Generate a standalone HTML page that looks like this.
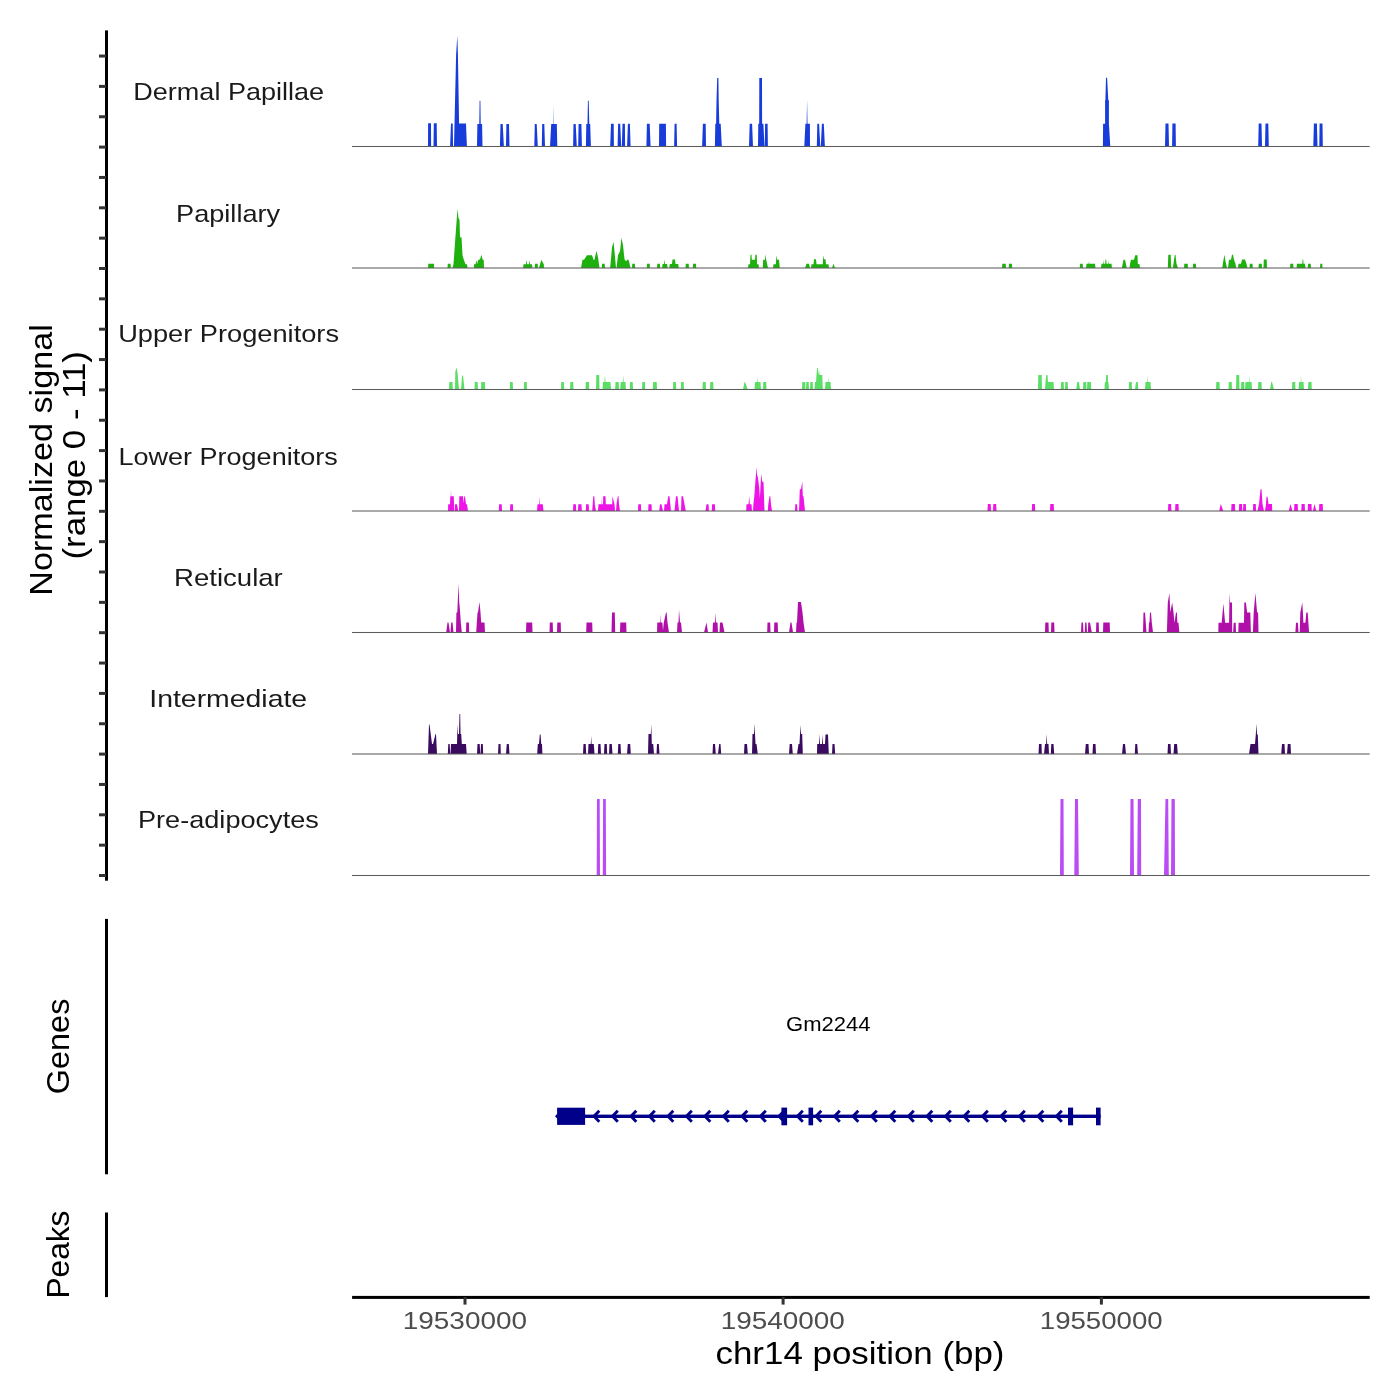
<!DOCTYPE html>
<html><head><meta charset="utf-8"><style>
html,body{margin:0;padding:0;background:#fff;width:1400px;height:1400px;overflow:hidden}
svg{display:block;will-change:transform}
text{font-family:"Liberation Sans",sans-serif}
</style></head><body>
<svg width="1400" height="1400" viewBox="0 0 1400 1400">
<rect width="1400" height="1400" fill="#fff"/>
<path fill="#173cda" d="M428.0 146.5L428.0 146.5L428.1 123.3L431.0 123.3L431.1 146.5L431.1 146.5ZM433.5 146.5L433.5 146.5L433.8 123.3L436.7 123.3L437.0 146.5L437.0 146.5ZM450.1 146.5L450.1 146.5L451.0 123.6L452.7 123.6L453.1 146.5L453.1 146.5ZM454.0 146.5L454.0 146.5L456.1 55.0L457.3 35.5L457.9 53.5L459.1 123.6L459.5 123.6L466.0 123.6L466.9 146.5L466.9 146.5ZM477.0 146.5L477.0 146.5L477.4 123.9L479.3 123.9L479.6 100.7L480.4 100.7L480.7 123.9L482.1 123.9L482.5 146.5L482.5 146.5ZM499.9 146.5L499.9 146.5L500.5 123.9L502.7 123.9L503.9 146.5L503.9 146.5ZM506.0 146.5L506.0 146.5L506.4 123.9L509.0 123.9L509.5 146.5L509.5 146.5ZM534.3 146.5L534.3 146.5L534.8 123.9L536.7 123.9L537.8 146.5L537.8 146.5ZM541.8 146.5L541.8 146.5L542.2 123.9L544.3 123.9L545.0 146.5L545.0 146.5ZM550.0 146.5L550.0 146.5L551.2 123.9L553.4 123.9L553.6 104.3L553.8 123.9L556.8 123.9L557.3 146.5L557.3 146.5ZM573.1 146.5L573.1 146.5L573.5 123.9L575.7 123.9L576.8 146.5L576.8 146.5ZM578.2 146.5L578.2 146.5L578.6 123.9L581.4 123.9L581.9 146.5L581.9 146.5ZM585.9 146.5L585.9 146.5L586.3 123.9L587.5 123.9L587.9 100.7L588.7 100.7L589.3 123.9L590.2 123.9L590.9 146.5L590.9 146.5ZM610.2 146.5L610.2 146.5L611.0 123.8L613.7 123.8L613.9 146.5L613.9 146.5ZM617.6 146.5L617.6 146.5L618.1 123.8L620.2 123.8L621.2 146.5L621.2 146.5ZM621.8 146.5L621.8 146.5L622.5 123.8L624.9 123.8L625.1 146.5L625.1 146.5ZM627.1 146.5L627.1 146.5L627.9 123.8L629.9 123.8L630.6 146.5L630.6 146.5ZM646.4 146.5L646.4 146.5L646.9 123.8L649.7 123.8L650.6 146.5L650.6 146.5ZM659.0 146.5L659.0 146.5L659.2 123.8L665.9 123.8L666.1 146.5L666.1 146.5ZM674.1 146.5L674.1 146.5L674.6 123.8L676.6 123.8L677.1 146.5L677.1 146.5ZM702.1 146.5L702.1 146.5L702.9 123.8L705.7 123.8L706.0 146.5L706.0 146.5ZM714.9 146.5L714.9 146.5L715.3 123.8L716.1 123.8L716.5 100.8L717.2 78.1L718.4 78.1L718.7 100.8L719.3 123.8L720.7 123.8L721.8 146.5L721.8 146.5ZM749.0 146.5L749.0 146.5L749.7 123.8L752.1 123.8L753.0 146.5L753.0 146.5ZM758.0 146.5L758.0 146.5L758.3 123.8L759.2 123.8L759.3 78.1L762.0 78.1L762.1 123.8L763.4 123.8L764.5 146.5L764.5 146.5ZM764.8 146.5L764.8 146.5L765.1 123.8L767.6 123.8L767.9 146.5L767.9 146.5ZM804.3 146.5L804.3 146.5L805.4 123.8L806.6 123.8L807.1 99.9L807.5 123.8L809.9 123.8L810.0 146.5L810.0 146.5ZM816.8 146.5L816.8 146.5L817.3 123.8L819.1 123.8L820.3 146.5L820.3 146.5ZM820.8 146.5L820.8 146.5L821.9 123.8L823.8 123.8L824.9 146.5L824.9 146.5ZM1102.9 146.5L1102.9 146.5L1103.1 123.7L1105.1 123.7L1105.1 100.3L1105.4 100.3L1106.0 77.7L1107.1 77.7L1108.3 100.3L1108.9 100.3L1108.9 123.7L1110.3 146.5L1110.3 146.5ZM1165.0 146.5L1165.0 146.5L1165.5 123.6L1168.5 123.6L1169.0 146.5L1169.0 146.5ZM1172.1 146.5L1172.1 146.5L1172.4 123.6L1175.6 123.6L1175.9 146.5L1175.9 146.5ZM1258.2 146.5L1258.2 146.5L1258.7 123.6L1261.5 123.6L1262.0 146.5L1262.0 146.5ZM1265.0 146.5L1265.0 146.5L1265.5 123.6L1268.3 123.6L1268.8 146.5L1268.8 146.5ZM1313.3 146.5L1313.3 146.5L1313.9 123.6L1316.9 123.6L1317.5 146.5L1317.5 146.5ZM1319.3 146.5L1319.3 146.5L1319.6 123.6L1322.5 123.6L1322.8 146.5L1322.8 146.5Z"/>
<rect x="352.0" y="145.975" width="1017.7" height="1.05" fill="#5c5c5c"/>
<path fill="#1eb00e" d="M428.0 268.0L428.0 268.0L428.3 263.7L433.9 263.7L434.2 268.0L434.2 268.0ZM447.5 268.0L447.5 268.0L447.8 263.7L450.5 263.7L450.8 268.0L450.8 268.0ZM452.5 268.0L452.5 268.0L453.5 264.0L455.0 243.0L457.5 208.7L458.5 218.2L459.5 219.7L460.0 237.2L461.5 237.2L462.5 255.2L464.0 260.2L465.5 264.2L467.0 264.2L467.5 268.0L467.5 268.0ZM474.0 268.0L474.0 268.0L474.0 264.2L475.5 264.2L476.5 260.2L477.2 264.2L478.0 260.2L480.0 259.2L481.5 254.7L482.5 259.2L483.8 260.2L484.0 268.0L484.0 268.0ZM523.0 268.0L523.0 268.0L523.5 264.2L526.0 264.2L526.5 259.7L527.2 264.2L529.0 264.2L529.5 260.2L530.2 264.2L532.0 264.2L532.5 268.0L532.5 268.0ZM534.8 268.0L534.8 268.0L535.1 263.7L537.7 263.7L538.0 268.0L538.0 268.0ZM539.0 268.0L539.0 268.0L540.0 264.2L541.5 259.7L542.5 262.0L543.8 264.2L544.0 268.0L544.0 268.0ZM581.0 268.0L581.0 268.0L582.5 259.7L584.0 259.7L587.0 255.2L592.0 255.2L593.5 259.7L594.5 259.7L596.5 250.7L598.0 257.2L599.5 268.0L599.5 268.0ZM601.8 268.0L601.8 268.0L602.1 263.7L604.7 263.7L605.0 268.0L605.0 268.0ZM610.0 268.0L610.0 268.0L610.5 264.2L612.0 247.2L613.5 241.7L614.5 251.2L616.0 268.0L616.0 268.0ZM616.5 268.0L616.5 268.0L618.0 255.2L620.0 251.2L621.5 237.7L623.0 245.2L624.5 259.2L626.0 261.2L628.0 259.2L629.0 261.2L630.5 268.0L630.5 268.0ZM632.0 268.0L632.0 268.0L632.3 263.7L634.9 263.7L635.2 268.0L635.2 268.0ZM646.8 268.0L646.8 268.0L647.1 263.7L649.7 263.7L650.0 268.0L650.0 268.0ZM657.0 268.0L657.0 268.0L657.3 263.7L659.9 263.7L660.2 268.0L660.2 268.0ZM662.2 268.0L662.2 268.0L662.5 264.0L664.0 264.0L664.5 259.2L665.0 264.0L667.2 264.0L667.5 268.0L667.5 268.0ZM669.2 268.0L669.2 268.0L669.8 264.0L672.0 264.0L672.5 259.4L675.0 259.4L675.5 264.0L678.2 264.0L678.8 268.0L678.8 268.0ZM685.5 268.0L685.5 268.0L685.8 263.7L688.7 263.7L689.0 268.0L689.0 268.0ZM692.8 268.0L692.8 268.0L693.1 263.7L695.9 263.7L696.2 268.0L696.2 268.0ZM748.0 268.0L748.0 268.0L748.5 264.2L750.0 264.2L750.5 254.7L751.5 254.7L751.8 259.7L755.0 259.7L755.5 254.7L756.8 254.7L757.0 264.2L758.5 264.2L759.0 268.0L759.0 268.0ZM762.8 268.0L762.8 268.0L763.2 259.7L765.0 259.7L765.5 254.2L766.2 259.7L767.2 264.2L768.0 268.0L768.0 268.0ZM773.0 268.0L773.0 268.0L773.5 264.2L775.8 264.2L776.5 255.2L777.2 259.7L779.0 259.7L779.8 268.0L779.8 268.0ZM805.0 268.0L805.0 268.0L806.5 263.7L809.0 263.7L810.0 268.0L810.0 268.0ZM811.0 268.0L811.0 268.0L811.5 264.2L813.5 264.2L814.0 259.2L816.0 259.2L816.5 264.2L822.8 264.2L823.3 255.2L824.0 259.2L825.5 259.2L826.0 264.2L828.5 264.2L829.0 268.0L829.0 268.0ZM832.0 268.0L832.0 268.0L833.5 263.7L835.0 268.0L835.0 268.0ZM1002.0 268.0L1002.0 268.0L1002.3 263.7L1005.7 263.7L1006.0 268.0L1006.0 268.0ZM1008.7 268.0L1008.7 268.0L1009.0 263.7L1011.9 263.7L1012.2 268.0L1012.2 268.0ZM1079.8 268.0L1079.8 268.0L1080.1 263.7L1082.7 263.7L1083.0 268.0L1083.0 268.0ZM1086.0 268.0L1086.0 268.0L1086.5 263.7L1088.7 263.7L1089.0 260.7L1089.3 263.7L1095.0 263.7L1095.5 268.0L1095.5 268.0ZM1101.0 268.0L1101.0 268.0L1101.5 263.7L1103.2 263.7L1103.5 259.7L1103.8 263.7L1105.2 263.7L1105.5 259.5L1106.2 259.5L1106.5 263.7L1108.2 263.7L1108.5 259.7L1108.8 263.7L1111.5 263.7L1112.0 268.0L1112.0 268.0ZM1121.8 268.0L1121.8 268.0L1123.5 259.7L1125.0 259.7L1126.8 268.0L1126.8 268.0ZM1129.5 268.0L1129.5 268.0L1130.0 263.7L1131.0 259.7L1134.0 259.7L1135.2 255.2L1137.5 255.2L1137.8 263.7L1139.5 264.2L1140.0 268.0L1140.0 268.0ZM1167.8 268.0L1167.8 268.0L1168.3 254.7L1170.7 254.7L1171.2 268.0L1171.2 268.0ZM1172.8 268.0L1172.8 268.0L1173.5 263.7L1174.8 254.7L1175.5 254.7L1176.5 263.7L1178.0 268.0L1178.0 268.0ZM1184.0 268.0L1184.0 268.0L1184.3 263.7L1187.7 263.7L1188.0 268.0L1188.0 268.0ZM1192.8 268.0L1192.8 268.0L1193.1 263.7L1195.9 263.7L1196.2 268.0L1196.2 268.0ZM1222.2 268.0L1222.2 268.0L1223.5 259.7L1224.5 254.7L1225.2 259.7L1227.0 268.0L1227.0 268.0ZM1228.0 268.0L1228.0 268.0L1229.0 259.7L1231.0 259.7L1232.0 254.7L1233.0 254.7L1234.0 259.7L1235.5 263.7L1236.2 268.0L1236.2 268.0ZM1238.0 268.0L1238.0 268.0L1238.5 263.7L1241.0 263.7L1241.5 261.5L1242.0 259.5L1245.0 259.5L1246.5 263.7L1247.5 268.0L1247.5 268.0ZM1249.5 268.0L1249.5 268.0L1249.8 263.7L1252.5 263.7L1252.8 268.0L1252.8 268.0ZM1258.5 268.0L1258.5 268.0L1258.8 263.7L1261.7 263.7L1262.0 268.0L1262.0 268.0ZM1263.5 268.0L1263.5 268.0L1263.8 259.5L1266.7 259.5L1267.0 268.0L1267.0 268.0ZM1290.0 268.0L1290.0 268.0L1290.3 263.7L1293.2 263.7L1293.5 268.0L1293.5 268.0ZM1296.5 268.0L1296.5 268.0L1297.0 263.7L1302.3 263.7L1302.6 259.5L1303.2 259.5L1303.5 263.7L1305.0 263.7L1305.5 268.0L1305.5 268.0ZM1307.8 268.0L1307.8 268.0L1308.1 263.7L1310.7 263.7L1311.0 268.0L1311.0 268.0ZM1320.0 268.0L1320.0 268.0L1320.3 263.7L1322.2 263.7L1322.5 268.0L1322.5 268.0Z"/>
<rect x="352.0" y="267.475" width="1017.7" height="1.05" fill="#5c5c5c"/>
<path fill="#5ade66" d="M449.0 389.5L449.0 389.5L449.3 382.0L452.5 382.0L452.8 389.5L452.8 389.5ZM455.0 389.5L455.0 389.5L455.3 371.5L456.5 367.5L457.5 372.5L459.0 389.5L459.0 389.5ZM461.0 389.5L461.0 389.5L462.0 376.5L463.0 375.0L464.5 389.5L464.5 389.5ZM474.5 389.5L474.5 389.5L474.8 382.0L477.7 382.0L478.0 389.5L478.0 389.5ZM481.0 389.5L481.0 389.5L481.3 382.0L484.9 382.0L485.2 389.5L485.2 389.5ZM509.8 389.5L509.8 389.5L510.1 382.0L512.7 382.0L513.0 389.5L513.0 389.5ZM523.8 389.5L523.8 389.5L524.1 382.0L526.7 382.0L527.0 389.5L527.0 389.5ZM561.0 389.5L561.0 389.5L561.3 382.0L563.9 382.0L564.2 389.5L564.2 389.5ZM570.0 389.5L570.0 389.5L570.3 382.0L573.2 382.0L573.5 389.5L573.5 389.5ZM585.5 389.5L585.5 389.5L585.8 382.0L588.9 382.0L589.2 389.5L589.2 389.5ZM596.0 389.5L596.0 389.5L596.3 375.0L599.2 375.0L599.5 389.5L599.5 389.5ZM602.5 389.5L602.5 389.5L603.0 382.0L604.5 382.0L605.0 375.0L605.5 382.0L610.5 382.0L611.0 389.5L611.0 389.5ZM615.2 389.5L615.2 389.5L615.5 382.0L618.7 382.0L619.0 389.5L619.0 389.5ZM620.2 389.5L620.2 389.5L620.7 382.0L622.8 382.0L623.2 375.0L623.6 382.0L625.5 382.0L626.0 389.5L626.0 389.5ZM629.8 389.5L629.8 389.5L630.1 382.0L632.7 382.0L633.0 389.5L633.0 389.5ZM642.0 389.5L642.0 389.5L642.3 382.0L644.9 382.0L645.2 389.5L645.2 389.5ZM652.8 389.5L652.8 389.5L653.1 382.0L656.7 382.0L657.0 389.5L657.0 389.5ZM673.0 389.5L673.0 389.5L673.3 382.0L675.9 382.0L676.2 389.5L676.2 389.5ZM680.8 389.5L680.8 389.5L681.1 382.0L683.7 382.0L684.0 389.5L684.0 389.5ZM702.5 389.5L702.5 389.5L702.8 382.0L705.7 382.0L706.0 389.5L706.0 389.5ZM710.0 389.5L710.0 389.5L710.3 382.0L713.2 382.0L713.5 389.5L713.5 389.5ZM743.0 389.5L743.0 389.5L744.5 382.0L745.0 382.0L747.8 389.5L747.8 389.5ZM754.5 389.5L754.5 389.5L755.0 382.0L757.2 382.0L757.5 376.5L757.8 382.0L760.5 382.0L761.0 389.5L761.0 389.5ZM763.0 389.5L763.0 389.5L763.3 382.0L766.2 382.0L766.5 389.5L766.5 389.5ZM802.0 389.5L802.0 389.5L802.3 382.0L805.2 382.0L805.5 389.5L805.5 389.5ZM806.0 389.5L806.0 389.5L806.3 382.0L808.7 382.0L809.0 389.5L809.0 389.5ZM810.0 389.5L810.0 389.5L810.3 382.0L812.7 382.0L813.0 389.5L813.0 389.5ZM814.5 389.5L814.5 389.5L815.0 382.0L816.0 382.0L816.5 375.0L817.0 368.0L817.8 368.0L818.2 375.0L819.0 369.5L819.5 375.0L822.3 375.0L822.8 389.5L822.8 389.5ZM825.0 389.5L825.0 389.5L825.5 382.0L828.2 382.0L828.5 376.5L828.8 382.0L830.5 382.0L831.0 389.5L831.0 389.5ZM1038.0 389.5L1038.0 389.5L1038.3 375.0L1041.7 375.0L1042.0 389.5L1042.0 389.5ZM1045.0 389.5L1045.0 389.5L1045.5 382.0L1046.3 375.0L1047.5 375.0L1048.0 382.0L1053.5 382.0L1054.0 389.5L1054.0 389.5ZM1060.8 389.5L1060.8 389.5L1061.1 382.0L1063.7 382.0L1064.0 389.5L1064.0 389.5ZM1065.0 389.5L1065.0 389.5L1065.3 382.0L1067.7 382.0L1068.0 389.5L1068.0 389.5ZM1076.2 389.5L1076.2 389.5L1077.2 382.0L1078.8 382.0L1080.0 389.5L1080.0 389.5ZM1083.0 389.5L1083.0 389.5L1083.3 382.0L1086.2 382.0L1086.5 389.5L1086.5 389.5ZM1087.0 389.5L1087.0 389.5L1087.3 382.0L1090.9 382.0L1091.2 389.5L1091.2 389.5ZM1104.5 389.5L1104.5 389.5L1104.9 382.0L1105.9 382.0L1106.1 375.0L1107.8 375.0L1108.0 382.0L1108.4 382.0L1109.0 389.5L1109.0 389.5ZM1128.8 389.5L1128.8 389.5L1129.1 382.0L1131.7 382.0L1132.0 389.5L1132.0 389.5ZM1135.0 389.5L1135.0 389.5L1136.0 382.0L1137.8 382.0L1138.2 389.5L1138.2 389.5ZM1145.0 389.5L1145.0 389.5L1145.5 382.0L1147.2 382.0L1147.5 375.0L1147.8 382.0L1150.5 382.0L1151.0 389.5L1151.0 389.5ZM1216.0 389.5L1216.0 389.5L1216.3 382.0L1219.5 382.0L1219.8 389.5L1219.8 389.5ZM1228.5 389.5L1228.5 389.5L1228.8 382.0L1231.7 382.0L1232.0 389.5L1232.0 389.5ZM1236.0 389.5L1236.0 389.5L1236.3 375.0L1239.2 375.0L1239.5 389.5L1239.5 389.5ZM1241.0 389.5L1241.0 389.5L1241.3 382.0L1244.2 382.0L1244.5 389.5L1244.5 389.5ZM1245.0 389.5L1245.0 389.5L1245.5 382.0L1249.2 382.0L1249.5 375.0L1249.8 382.0L1251.5 382.0L1252.0 389.5L1252.0 389.5ZM1258.0 389.5L1258.0 389.5L1258.3 382.0L1261.5 382.0L1261.8 389.5L1261.8 389.5ZM1270.0 389.5L1270.0 389.5L1271.2 382.0L1272.0 382.0L1274.0 389.5L1274.0 389.5ZM1292.0 389.5L1292.0 389.5L1292.3 382.0L1295.2 382.0L1295.5 389.5L1295.5 389.5ZM1298.5 389.5L1298.5 389.5L1299.0 382.0L1300.7 382.0L1301.0 375.0L1301.3 382.0L1303.5 382.0L1304.0 389.5L1304.0 389.5ZM1308.0 389.5L1308.0 389.5L1308.3 382.0L1311.5 382.0L1311.8 389.5L1311.8 389.5Z"/>
<rect x="352.0" y="388.975" width="1017.7" height="1.05" fill="#5c5c5c"/>
<path fill="#ee14e8" d="M448.0 511.0L448.0 511.0L448.2 504.2L450.0 504.2L450.3 496.2L450.8 496.2L451.0 489.0L451.2 496.2L453.8 496.2L454.2 511.0L454.8 511.0L455.0 504.2L457.0 504.2L458.3 511.0L459.0 511.0L459.3 496.2L463.0 496.2L463.5 503.0L464.3 496.2L465.0 496.2L466.0 504.2L467.0 504.2L468.0 511.0L468.0 511.0ZM498.8 511.0L498.8 511.0L499.1 504.2L501.7 504.2L502.0 511.0L502.0 511.0ZM510.0 511.0L510.0 511.0L510.3 504.2L512.9 504.2L513.2 511.0L513.2 511.0ZM537.0 511.0L537.0 511.0L537.5 504.2L539.2 504.2L539.5 496.2L539.9 504.2L542.8 504.2L543.5 511.0L543.5 511.0ZM573.0 511.0L573.0 511.0L573.3 504.2L575.9 504.2L576.2 511.0L576.2 511.0ZM578.0 511.0L578.0 511.0L578.3 504.2L581.5 504.2L581.8 511.0L581.8 511.0ZM585.8 511.0L585.8 511.0L586.1 504.2L588.7 504.2L589.0 511.0L589.0 511.0ZM592.2 511.0L592.2 511.0L592.7 504.2L593.3 496.2L594.3 496.2L594.8 504.2L596.0 511.0L596.0 511.0ZM598.0 511.0L598.0 511.0L598.5 504.2L601.3 504.2L601.5 496.2L601.7 504.2L603.0 504.2L603.2 496.2L605.5 496.2L605.8 504.2L612.2 504.2L612.5 496.2L614.5 504.2L615.0 511.0L615.0 511.0ZM616.0 511.0L616.0 511.0L616.5 504.2L617.8 496.2L618.5 496.2L619.0 504.2L620.0 511.0L620.0 511.0ZM638.0 511.0L638.0 511.0L638.3 504.2L640.9 504.2L641.2 511.0L641.2 511.0ZM648.2 511.0L648.2 511.0L648.5 504.2L651.5 504.2L651.8 511.0L651.8 511.0ZM659.2 511.0L659.2 511.0L660.0 504.2L661.5 504.2L663.0 511.0L663.0 511.0ZM664.0 511.0L664.0 511.0L664.5 504.2L667.0 504.2L668.2 496.2L669.5 496.2L671.0 511.0L671.0 511.0ZM674.5 511.0L674.5 511.0L676.0 496.2L677.5 496.2L679.0 511.0L679.0 511.0ZM681.0 511.0L681.0 511.0L681.5 496.2L683.0 496.2L685.8 511.0L685.8 511.0ZM705.5 511.0L705.5 511.0L706.5 504.2L708.5 504.2L709.0 511.0L709.0 511.0ZM711.8 511.0L711.8 511.0L712.1 504.2L714.9 504.2L715.2 511.0L715.2 511.0ZM746.2 511.0L746.2 511.0L746.5 504.2L748.5 504.2L749.3 496.2L749.8 504.2L751.5 504.2L752.0 511.0L752.0 511.0ZM753.0 511.0L753.0 511.0L753.4 504.2L754.3 496.2L756.5 466.7L757.0 474.7L757.8 477.0L758.5 481.7L759.3 489.0L759.9 498.2L761.2 473.7L762.2 481.7L763.5 481.7L764.5 511.0L764.5 511.0ZM767.8 511.0L767.8 511.0L768.3 504.2L769.5 496.2L770.3 496.2L771.0 504.2L772.0 511.0L772.0 511.0ZM795.0 511.0L795.0 511.0L795.3 504.2L797.0 504.2L797.5 511.0L797.5 511.0ZM799.0 511.0L799.0 511.0L799.8 489.2L801.0 489.2L802.3 481.2L802.8 496.2L803.5 496.2L805.0 511.0L805.0 511.0ZM987.5 511.0L987.5 511.0L987.8 504.0L990.7 504.0L991.0 511.0L991.0 511.0ZM993.0 511.0L993.0 511.0L993.3 504.0L996.2 504.0L996.5 511.0L996.5 511.0ZM1031.8 511.0L1031.8 511.0L1032.1 504.0L1034.9 504.0L1035.2 511.0L1035.2 511.0ZM1050.0 511.0L1050.0 511.0L1050.3 504.0L1053.7 504.0L1054.0 511.0L1054.0 511.0ZM1168.0 511.0L1168.0 511.0L1168.3 504.0L1171.1 504.0L1171.4 511.0L1171.4 511.0ZM1175.1 511.0L1175.1 511.0L1175.4 504.0L1178.5 504.0L1178.8 511.0L1178.8 511.0ZM1219.2 511.0L1219.2 511.0L1220.8 504.0L1223.3 511.0L1223.3 511.0ZM1231.2 511.0L1231.2 511.0L1231.5 504.0L1234.9 504.0L1235.2 511.0L1235.2 511.0ZM1238.9 511.0L1238.9 511.0L1239.2 504.0L1242.0 504.0L1242.3 511.0L1242.3 511.0ZM1243.0 511.0L1243.0 511.0L1243.3 504.0L1245.8 504.0L1246.1 511.0L1246.1 511.0ZM1252.9 511.0L1252.9 511.0L1253.2 504.0L1255.8 504.0L1256.1 511.0L1256.1 511.0ZM1257.5 511.0L1257.5 511.0L1259.0 504.0L1260.5 489.3L1261.5 489.3L1262.5 504.0L1264.0 511.0L1264.0 511.0ZM1265.0 511.0L1265.0 511.0L1266.0 504.0L1266.5 496.7L1267.5 496.7L1268.5 504.0L1272.0 504.0L1272.2 511.0L1272.2 511.0ZM1288.7 511.0L1288.7 511.0L1290.5 504.0L1292.5 511.0L1292.5 511.0ZM1294.1 511.0L1294.1 511.0L1294.4 504.0L1297.7 504.0L1298.0 511.0L1298.0 511.0ZM1301.3 511.0L1301.3 511.0L1301.6 504.0L1304.7 504.0L1305.0 511.0L1305.0 511.0ZM1307.7 511.0L1307.7 511.0L1308.0 504.0L1311.5 504.0L1311.8 511.0L1311.8 511.0ZM1312.9 511.0L1312.9 511.0L1314.5 504.0L1316.3 511.0L1316.3 511.0ZM1319.0 511.0L1319.0 511.0L1319.3 504.0L1322.7 504.0L1323.0 511.0L1323.0 511.0Z"/>
<rect x="352.0" y="510.475" width="1017.7" height="1.05" fill="#5c5c5c"/>
<path fill="#b010a8" d="M446.2 632.5L446.2 632.5L447.5 622.5L448.5 622.5L450.0 632.5L450.0 632.5ZM450.5 632.5L450.5 632.5L451.2 622.5L452.5 622.5L453.5 632.5L453.5 632.5ZM456.0 632.5L456.0 632.5L456.4 612.5L457.3 612.5L458.5 583.5L459.2 602.0L460.0 610.5L460.8 622.5L461.8 632.5L461.8 632.5ZM466.0 632.5L466.0 632.5L466.3 622.5L468.9 622.5L469.2 632.5L469.2 632.5ZM476.2 632.5L476.2 632.5L477.5 612.5L478.0 612.5L479.5 602.0L480.5 612.5L481.2 622.5L484.5 622.5L485.0 632.5L485.0 632.5ZM526.0 632.5L526.0 632.5L526.3 622.5L532.2 622.5L532.5 632.5L532.5 632.5ZM549.5 632.5L549.5 632.5L549.8 622.5L552.7 622.5L553.0 632.5L553.0 632.5ZM557.0 632.5L557.0 632.5L557.3 622.5L560.7 622.5L561.0 632.5L561.0 632.5ZM586.2 632.5L586.2 632.5L586.5 622.5L592.2 622.5L592.5 632.5L592.5 632.5ZM611.5 632.5L611.5 632.5L612.0 612.5L614.8 612.5L615.2 632.5L615.2 632.5ZM620.0 632.5L620.0 632.5L620.3 622.5L626.2 622.5L626.5 632.5L626.5 632.5ZM657.0 632.5L657.0 632.5L657.3 622.5L660.0 622.5L660.3 613.5L660.6 622.5L662.4 622.5L663.0 630.5L663.8 622.5L666.0 612.5L666.6 612.5L667.5 622.5L669.0 632.5L669.0 632.5ZM677.0 632.5L677.0 632.5L677.5 622.5L678.5 622.5L679.0 609.5L680.0 622.5L681.0 622.5L682.0 632.5L682.0 632.5ZM704.0 632.5L704.0 632.5L706.5 622.5L708.0 632.5L708.0 632.5ZM712.5 632.5L712.5 632.5L713.0 622.5L715.0 622.5L715.5 612.5L716.0 622.5L717.5 622.5L718.0 632.5L718.0 632.5ZM719.5 632.5L719.5 632.5L720.0 622.5L722.5 622.5L724.5 632.5L724.5 632.5ZM767.2 632.5L767.2 632.5L767.5 622.5L770.2 622.5L770.5 632.5L770.5 632.5ZM774.0 632.5L774.0 632.5L774.3 622.5L777.7 622.5L778.0 632.5L778.0 632.5ZM789.0 632.5L789.0 632.5L790.5 622.5L791.5 622.5L793.0 632.5L793.0 632.5ZM796.0 632.5L796.0 632.5L796.5 622.5L797.0 622.5L798.0 602.0L801.0 602.0L802.5 612.5L803.5 622.5L805.0 632.5L805.0 632.5ZM1045.0 632.5L1045.0 632.5L1045.3 622.5L1048.5 622.5L1048.8 632.5L1048.8 632.5ZM1051.0 632.5L1051.0 632.5L1051.3 622.5L1054.2 622.5L1054.5 632.5L1054.5 632.5ZM1081.0 632.5L1081.0 632.5L1081.5 622.5L1083.0 622.5L1083.5 632.5L1083.5 632.5ZM1084.8 632.5L1084.8 632.5L1085.2 622.5L1086.5 622.5L1087.0 632.5L1087.0 632.5ZM1087.8 632.5L1087.8 632.5L1088.3 622.5L1090.0 622.5L1091.8 632.5L1091.8 632.5ZM1096.0 632.5L1096.0 632.5L1096.3 622.5L1098.7 622.5L1099.0 632.5L1099.0 632.5ZM1103.0 632.5L1103.0 632.5L1103.3 622.5L1109.7 622.5L1110.0 632.5L1110.0 632.5ZM1143.0 632.5L1143.0 632.5L1143.5 612.5L1145.0 612.5L1146.5 632.5L1146.5 632.5ZM1148.5 632.5L1148.5 632.5L1149.0 622.5L1149.5 622.5L1150.0 612.5L1151.0 612.5L1151.8 622.5L1153.0 632.5L1153.0 632.5ZM1166.9 632.5L1166.9 632.5L1167.8 602.4L1169.4 593.1L1170.3 612.5L1172.2 602.4L1173.5 612.5L1174.5 622.8L1176.0 612.5L1176.9 612.5L1177.4 622.8L1178.5 622.8L1179.4 632.5L1179.4 632.5ZM1218.3 632.5L1218.3 632.5L1218.5 622.8L1221.7 622.8L1222.6 612.5L1223.4 603.4L1224.2 612.5L1225.1 622.8L1229.1 622.8L1229.4 602.4L1229.7 593.1L1230.1 602.4L1232.0 602.4L1232.2 632.5L1233.1 632.5L1233.7 622.8L1235.7 622.8L1236.0 632.5L1236.0 632.5ZM1238.3 632.5L1238.3 632.5L1238.6 622.8L1244.0 622.8L1244.3 602.4L1245.9 602.4L1247.1 612.5L1250.3 612.5L1250.9 632.5L1250.9 632.5ZM1252.9 632.5L1252.9 632.5L1253.7 612.5L1255.4 593.1L1257.1 612.5L1258.1 612.5L1258.5 632.5L1258.5 632.5ZM1295.4 632.5L1295.4 632.5L1296.0 622.8L1297.9 622.8L1298.5 632.5L1298.5 632.5ZM1299.7 632.5L1299.7 632.5L1300.3 612.5L1302.3 602.4L1302.9 612.5L1303.4 622.8L1305.4 622.8L1306.3 612.5L1307.7 612.5L1309.1 632.5L1309.1 632.5Z"/>
<rect x="352.0" y="631.975" width="1017.7" height="1.05" fill="#5c5c5c"/>
<path fill="#3a0a60" d="M428.0 754.0L428.0 754.0L429.0 724.5L429.5 724.5L432.0 744.0L433.0 744.0L435.5 734.0L436.0 734.0L437.0 754.0L437.0 754.0ZM447.8 754.0L447.8 754.0L448.3 744.0L449.7 744.0L450.2 754.0L450.5 754.0L451.0 744.0L457.0 744.0L457.5 724.0L458.0 734.0L459.0 734.0L459.5 714.0L460.2 714.0L460.5 734.0L461.2 734.0L461.8 744.0L466.0 744.0L466.7 754.0L466.7 754.0ZM477.0 754.0L477.0 754.0L477.5 744.0L479.7 744.0L480.2 754.0L480.5 754.0L481.0 744.0L482.8 744.0L483.2 754.0L483.2 754.0ZM498.0 754.0L498.0 754.0L498.5 744.0L500.5 744.0L500.8 754.0L500.8 754.0ZM506.0 754.0L506.0 754.0L506.8 744.0L508.8 744.0L509.5 754.0L509.5 754.0ZM537.2 754.0L537.2 754.0L537.8 744.0L539.0 744.0L539.8 734.5L540.6 734.5L541.2 744.0L542.0 744.0L542.4 754.0L542.4 754.0ZM583.0 754.0L583.0 754.0L583.5 744.0L585.7 744.0L586.2 754.0L586.2 754.0ZM588.0 754.0L588.0 754.0L588.5 744.0L590.8 744.0L591.2 736.0L591.6 744.0L593.8 744.0L594.5 754.0L594.5 754.0ZM597.8 754.0L597.8 754.0L598.3 744.0L600.5 744.0L601.0 754.0L601.0 754.0ZM604.0 754.0L604.0 754.0L604.5 744.0L606.8 744.0L607.2 754.0L607.2 754.0ZM609.0 754.0L609.0 754.0L609.5 744.0L611.8 744.0L612.5 754.0L612.5 754.0ZM617.8 754.0L617.8 754.0L618.3 744.0L620.5 744.0L621.0 754.0L621.0 754.0ZM627.0 754.0L627.0 754.0L627.8 744.0L630.2 744.0L630.8 754.0L630.8 754.0ZM648.0 754.0L648.0 754.0L648.5 734.0L650.8 734.0L651.3 724.0L651.8 744.0L653.2 744.0L654.0 754.0L654.0 754.0ZM656.5 754.0L656.5 754.0L657.0 744.0L658.8 744.0L659.5 754.0L659.5 754.0ZM712.5 754.0L712.5 754.0L713.0 744.0L715.0 744.0L715.8 754.0L715.8 754.0ZM718.0 754.0L718.0 754.0L719.2 744.0L720.5 744.0L721.2 754.0L721.2 754.0ZM744.0 754.0L744.0 754.0L744.5 744.0L747.0 744.0L747.8 754.0L747.8 754.0ZM752.0 754.0L752.0 754.0L752.5 734.0L754.0 734.0L754.5 723.5L755.0 734.0L755.5 744.0L756.5 744.0L757.8 754.0L757.8 754.0ZM789.0 754.0L789.0 754.0L789.7 744.0L792.0 744.0L792.8 754.0L792.8 754.0ZM797.0 754.0L797.0 754.0L798.5 744.0L799.5 744.0L800.0 734.0L800.5 725.0L801.0 734.0L802.2 734.0L802.8 754.0L802.8 754.0ZM817.0 754.0L817.0 754.0L817.2 744.0L819.0 744.0L819.5 734.0L820.0 744.0L822.0 744.0L822.5 734.5L823.0 744.0L825.0 744.0L825.5 734.5L828.0 734.5L828.8 754.0L828.8 754.0ZM832.0 754.0L832.0 754.0L832.5 744.0L834.5 744.0L835.2 754.0L835.2 754.0ZM1038.5 754.0L1038.5 754.0L1039.0 744.0L1041.5 744.0L1041.8 754.0L1041.8 754.0ZM1044.0 754.0L1044.0 754.0L1045.0 744.0L1046.2 744.0L1046.6 734.0L1047.2 744.0L1048.5 744.0L1049.0 754.0L1049.0 754.0ZM1050.8 754.0L1050.8 754.0L1051.3 744.0L1053.5 744.0L1054.2 754.0L1054.2 754.0ZM1085.0 754.0L1085.0 754.0L1085.8 744.0L1088.5 744.0L1089.0 754.0L1089.0 754.0ZM1092.5 754.0L1092.5 754.0L1093.0 744.0L1095.5 744.0L1096.0 754.0L1096.0 754.0ZM1122.0 754.0L1122.0 754.0L1123.0 744.0L1125.0 744.0L1126.0 754.0L1126.0 754.0ZM1134.8 754.0L1134.8 754.0L1135.3 744.0L1137.2 744.0L1138.0 754.0L1138.0 754.0ZM1167.5 754.0L1167.5 754.0L1168.0 744.0L1170.5 744.0L1171.0 754.0L1171.0 754.0ZM1173.5 754.0L1173.5 754.0L1174.2 744.0L1177.0 744.0L1177.8 754.0L1177.8 754.0ZM1249.0 754.0L1249.0 754.0L1250.5 744.0L1255.0 744.0L1255.8 734.5L1256.5 723.5L1257.0 734.5L1257.8 734.5L1258.5 754.0L1258.5 754.0ZM1281.2 754.0L1281.2 754.0L1282.0 744.0L1284.5 744.0L1285.0 754.0L1285.0 754.0ZM1287.0 754.0L1287.0 754.0L1287.8 744.0L1290.5 744.0L1291.0 754.0L1291.0 754.0Z"/>
<rect x="352.0" y="753.475" width="1017.7" height="1.05" fill="#5c5c5c"/>
<path fill="#bb4bf5" d="M596.7 875.5L596.7 875.5L597.0 799.0L599.7 799.0L600.0 875.5L600.0 875.5ZM602.8 875.5L602.8 875.5L603.1 799.0L605.8 799.0L606.1 875.5L606.1 875.5ZM1060.0 875.5L1060.0 875.5L1060.5 799.0L1063.5 799.0L1063.8 875.5L1063.8 875.5ZM1074.3 875.5L1074.3 875.5L1075.0 799.0L1078.0 799.0L1078.8 875.5L1078.8 875.5ZM1130.0 875.5L1130.0 875.5L1130.5 799.0L1133.5 799.0L1134.0 875.5L1134.0 875.5ZM1137.2 875.5L1137.2 875.5L1137.8 799.0L1141.0 799.0L1141.2 875.5L1141.2 875.5ZM1164.0 875.5L1164.0 875.5L1165.5 799.0L1168.2 799.0L1168.8 875.5L1168.8 875.5ZM1171.0 875.5L1171.0 875.5L1171.5 799.0L1174.8 799.0L1175.0 875.5L1175.0 875.5Z"/>
<rect x="352.0" y="874.975" width="1017.7" height="1.05" fill="#5c5c5c"/>
<rect x="105" y="30.4" width="3" height="850.3" fill="#000"/>
<rect x="99" y="874.00" width="7" height="3" fill="#333"/><rect x="99" y="843.65" width="7" height="3" fill="#333"/><rect x="99" y="813.30" width="7" height="3" fill="#333"/><rect x="99" y="782.95" width="7" height="3" fill="#333"/><rect x="99" y="752.60" width="7" height="3" fill="#333"/><rect x="99" y="722.25" width="7" height="3" fill="#333"/><rect x="99" y="691.90" width="7" height="3" fill="#333"/><rect x="99" y="661.55" width="7" height="3" fill="#333"/><rect x="99" y="631.20" width="7" height="3" fill="#333"/><rect x="99" y="600.85" width="7" height="3" fill="#333"/><rect x="99" y="570.50" width="7" height="3" fill="#333"/><rect x="99" y="540.15" width="7" height="3" fill="#333"/><rect x="99" y="509.80" width="7" height="3" fill="#333"/><rect x="99" y="479.45" width="7" height="3" fill="#333"/><rect x="99" y="449.10" width="7" height="3" fill="#333"/><rect x="99" y="418.75" width="7" height="3" fill="#333"/><rect x="99" y="388.40" width="7" height="3" fill="#333"/><rect x="99" y="358.05" width="7" height="3" fill="#333"/><rect x="99" y="327.70" width="7" height="3" fill="#333"/><rect x="99" y="297.35" width="7" height="3" fill="#333"/><rect x="99" y="267.00" width="7" height="3" fill="#333"/><rect x="99" y="236.65" width="7" height="3" fill="#333"/><rect x="99" y="206.30" width="7" height="3" fill="#333"/><rect x="99" y="175.95" width="7" height="3" fill="#333"/><rect x="99" y="145.60" width="7" height="3" fill="#333"/><rect x="99" y="115.25" width="7" height="3" fill="#333"/><rect x="99" y="84.90" width="7" height="3" fill="#333"/><rect x="99" y="54.55" width="7" height="3" fill="#333"/>
<rect x="105" y="918.9" width="3" height="255.4" fill="#000"/>
<rect x="105" y="1212.5" width="3" height="84.6" fill="#000"/>
<rect x="352.1" y="1295.9" width="1017.6" height="3" fill="#000"/>
<rect x="463.5" y="1297" width="3" height="7.6" fill="#333"/><rect x="781.6" y="1297" width="3" height="7.6" fill="#333"/><rect x="1099.9" y="1297" width="3" height="7.6" fill="#333"/>
<text x="228.7" y="99.9" font-size="24.4" fill="#1a1a1a" text-anchor="middle" textLength="190.9" lengthAdjust="spacingAndGlyphs">Dermal Papillae</text>
<text x="228.1" y="221.7" font-size="24.4" fill="#1a1a1a" text-anchor="middle" textLength="104.1" lengthAdjust="spacingAndGlyphs">Papillary</text>
<text x="228.6" y="342.4" font-size="24.4" fill="#1a1a1a" text-anchor="middle" textLength="220.9" lengthAdjust="spacingAndGlyphs">Upper Progenitors</text>
<text x="228.1" y="464.5" font-size="24.4" fill="#1a1a1a" text-anchor="middle" textLength="219.1" lengthAdjust="spacingAndGlyphs">Lower Progenitors</text>
<text x="228.4" y="585.9" font-size="24.4" fill="#1a1a1a" text-anchor="middle" textLength="108.8" lengthAdjust="spacingAndGlyphs">Reticular</text>
<text x="228.2" y="707.4" font-size="24.4" fill="#1a1a1a" text-anchor="middle" textLength="157.9" lengthAdjust="spacingAndGlyphs">Intermediate</text>
<text x="228.4" y="828.3" font-size="24.4" fill="#1a1a1a" text-anchor="middle" textLength="180.8" lengthAdjust="spacingAndGlyphs">Pre-adipocytes</text>
<text transform="translate(51.7,460) rotate(-90)" font-size="30.6" text-anchor="middle" textLength="271.5" lengthAdjust="spacingAndGlyphs" fill="#000">Normalized signal</text>
<text transform="translate(84.9,455.3) rotate(-90)" font-size="30.6" text-anchor="middle" textLength="208.5" lengthAdjust="spacingAndGlyphs" fill="#000">(range 0 - 11)</text>
<text transform="translate(68.5,1046.4) rotate(-90)" font-size="30.6" text-anchor="middle" textLength="95.5" lengthAdjust="spacingAndGlyphs" fill="#000">Genes</text>
<text transform="translate(68.9,1254.6) rotate(-90)" font-size="30.6" text-anchor="middle" textLength="88" lengthAdjust="spacingAndGlyphs" fill="#000">Peaks</text>
<text x="464.9" y="1328.6" font-size="24.4" fill="#4d4d4d" text-anchor="middle" textLength="124.2" lengthAdjust="spacingAndGlyphs">19530000</text>
<text x="782.8" y="1328.6" font-size="24.4" fill="#4d4d4d" text-anchor="middle" textLength="124.2" lengthAdjust="spacingAndGlyphs">19540000</text>
<text x="1101.2" y="1328.6" font-size="24.4" fill="#4d4d4d" text-anchor="middle" textLength="122.8" lengthAdjust="spacingAndGlyphs">19550000</text>
<text x="860" y="1363.5" font-size="30.6" fill="#000" text-anchor="middle" textLength="289" lengthAdjust="spacingAndGlyphs">chr14 position (bp)</text>
<rect x="557" y="1114.6" width="543.6" height="3.4" fill="#00008b"/>
<rect x="557.1" y="1107.7" width="28.0" height="17.2" fill="#00008b"/>
<rect x="781.4" y="1107.6" width="5.7" height="17.7" fill="#00008b"/>
<rect x="808.5" y="1107.6" width="4.6" height="17.7" fill="#00008b"/>
<rect x="1068.0" y="1107.6" width="5.1" height="17.7" fill="#00008b"/>
<rect x="1096.0" y="1107.6" width="4.6" height="17.7" fill="#00008b"/>
<path d="M562.3 1110.8L557.0 1116.3L562.3 1121.8M580.8 1110.8L575.5 1116.3L580.8 1121.8M599.3 1110.8L594.0 1116.3L599.3 1121.8M617.8 1110.8L612.5 1116.3L617.8 1121.8M636.3 1110.8L631.0 1116.3L636.3 1121.8M654.8 1110.8L649.5 1116.3L654.8 1121.8M673.3 1110.8L668.0 1116.3L673.3 1121.8M691.8 1110.8L686.5 1116.3L691.8 1121.8M710.3 1110.8L705.0 1116.3L710.3 1121.8M728.8 1110.8L723.5 1116.3L728.8 1121.8M747.3 1110.8L742.0 1116.3L747.3 1121.8M765.8 1110.8L760.5 1116.3L765.8 1121.8M784.3 1110.8L779.0 1116.3L784.3 1121.8M802.8 1110.8L797.5 1116.3L802.8 1121.8M821.3 1110.8L816.0 1116.3L821.3 1121.8M839.8 1110.8L834.5 1116.3L839.8 1121.8M858.3 1110.8L853.0 1116.3L858.3 1121.8M876.8 1110.8L871.5 1116.3L876.8 1121.8M895.3 1110.8L890.0 1116.3L895.3 1121.8M913.8 1110.8L908.5 1116.3L913.8 1121.8M932.3 1110.8L927.0 1116.3L932.3 1121.8M950.8 1110.8L945.5 1116.3L950.8 1121.8M969.3 1110.8L964.0 1116.3L969.3 1121.8M987.8 1110.8L982.5 1116.3L987.8 1121.8M1006.3 1110.8L1001.0 1116.3L1006.3 1121.8M1024.8 1110.8L1019.5 1116.3L1024.8 1121.8M1043.3 1110.8L1038.0 1116.3L1043.3 1121.8M1061.8 1110.8L1056.5 1116.3L1061.8 1121.8" fill="none" stroke="#00008b" stroke-width="2.9" stroke-linecap="butt" stroke-linejoin="miter"/>
<text x="828.3" y="1030.7" font-size="20.2" fill="#000" text-anchor="middle" textLength="84.5" lengthAdjust="spacingAndGlyphs">Gm2244</text>
</svg>
</body></html>
